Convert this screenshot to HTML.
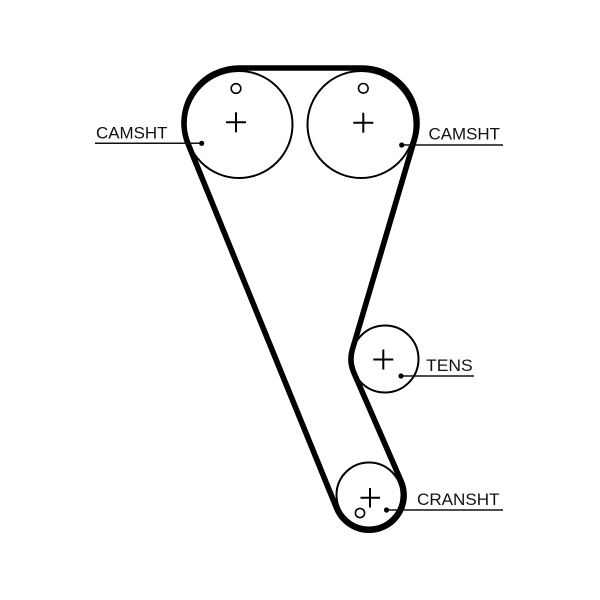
<!DOCTYPE html>
<html>
<head>
<meta charset="utf-8">
<style>
  html, body { margin: 0; padding: 0; background: #fff; }
  svg { display: block; }
  text { font-family: "Liberation Sans", Arial, sans-serif; font-size: 17px; fill: #111; }
</style>
</head>
<body>
<svg width="600" height="600" viewBox="0 0 600 600" xmlns="http://www.w3.org/2000/svg">
  <rect width="600" height="600" fill="#fff"/>

  <!-- pulleys -->
  <g fill="none" stroke="#000" stroke-width="2">
    <circle cx="239" cy="124.5" r="53.5"/>
    <circle cx="361" cy="124.5" r="53.5"/>
    <circle cx="385" cy="359" r="33.5"/>
    <circle cx="369" cy="495" r="32.5"/>
    <!-- holes -->
    <circle cx="236" cy="88.5" r="4.8" stroke-width="1.6"/>
    <circle cx="363.3" cy="88.3" r="4.8" stroke-width="1.6"/>
    <circle cx="360" cy="513" r="4.6" stroke-width="1.6"/>
  </g>

  <!-- plus marks -->
  <g stroke="#000" stroke-width="2">
    <line x1="226" y1="122.3" x2="246" y2="122.3"/>
    <line x1="236" y1="112.3" x2="236" y2="132.3"/>
    <line x1="353.3" y1="122.7" x2="373.3" y2="122.7"/>
    <line x1="363.3" y1="112.7" x2="363.3" y2="132.7"/>
    <line x1="373.3" y1="359.5" x2="393.3" y2="359.5"/>
    <line x1="383.3" y1="349.5" x2="383.3" y2="369.5"/>
    <line x1="360.5" y1="497.7" x2="380" y2="497.7"/>
    <line x1="370" y1="488" x2="370" y2="507.5"/>
  </g>

  <!-- belt -->
  <path d="M 188.07 143.76 A 55 55 0 0 1 239 68 L 362 68 A 55 55 0 0 1 414.74 138.60 L 352.40 349.36 A 34 34 0 0 0 353.83 372.58 L 401.08 481.02 A 35 35 0 1 1 336.59 508.21 Z"
        fill="none" stroke="#000" stroke-width="5.6" stroke-linejoin="round"/>

  <!-- leader lines -->
  <g stroke="#111" stroke-width="1.5">
    <line x1="95" y1="143.3" x2="201.7" y2="143.3"/>
    <line x1="401.7" y1="145" x2="503" y2="145"/>
    <line x1="401" y1="376" x2="474" y2="376"/>
    <line x1="386.5" y1="510" x2="503" y2="510"/>
  </g>
  <g fill="#000">
    <circle cx="201.7" cy="143.3" r="2.6"/>
    <circle cx="401.7" cy="145" r="2.6"/>
    <circle cx="401" cy="376" r="2.6"/>
    <circle cx="386.5" cy="510" r="2.6"/>
  </g>

  <!-- labels -->
  <text x="96" y="138.3" textLength="71.5" lengthAdjust="spacingAndGlyphs">CAMSHT</text>
  <text x="428.5" y="139.3" textLength="71.5" lengthAdjust="spacingAndGlyphs">CAMSHT</text>
  <text x="426" y="371" textLength="46.7" lengthAdjust="spacingAndGlyphs">TENS</text>
  <text x="417" y="505" textLength="82.5" lengthAdjust="spacingAndGlyphs">CRANSHT</text>
</svg>
</body>
</html>
